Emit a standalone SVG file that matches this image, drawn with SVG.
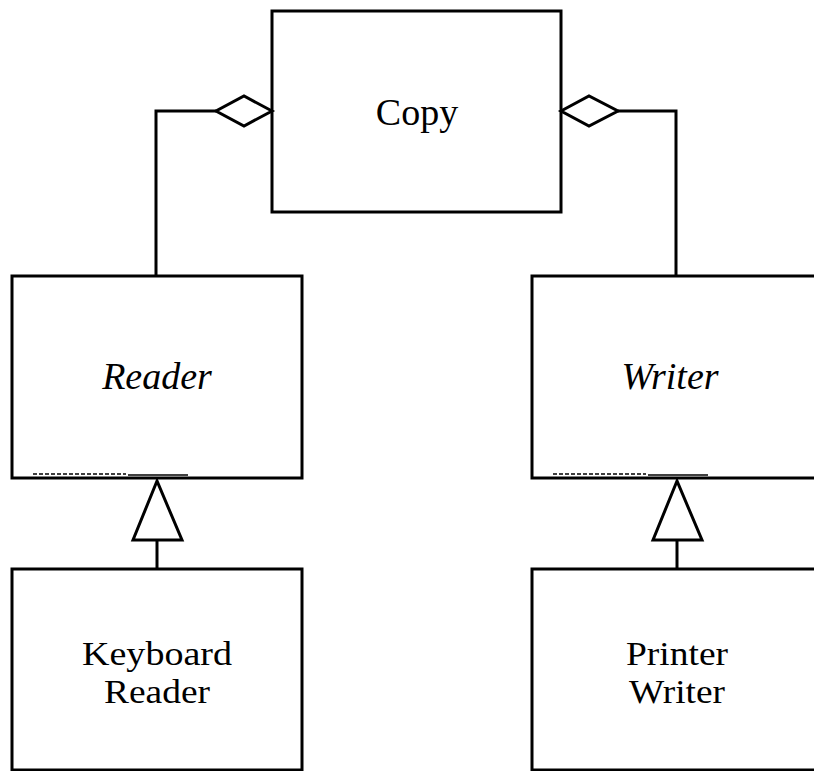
<svg xmlns="http://www.w3.org/2000/svg" width="814" height="771" viewBox="0 0 814 771">
<style>
.box{fill:#fff;stroke:#000;stroke-width:3}
.ln{fill:none;stroke:#000;stroke-width:3}
.hd{fill:#fff;stroke:#000;stroke-width:3;stroke-linejoin:miter}
.t{font-family:"Liberation Serif","Times New Roman",serif;font-size:38px;fill:#000;text-anchor:middle}
.s{font-size:33px}
.i{font-style:italic}
.art{fill:none;stroke:#000;stroke-width:1.5;stroke-dasharray:4 2}
</style>
<rect width="814" height="771" fill="#fff"/>
<g id="copy">
<rect class="box" x="272" y="11" width="289" height="201"/>
<text class="t" x="417" y="125">Copy</text>
</g>
<g id="reader">
<rect class="box" x="12" y="276" width="290" height="202"/>
<text class="t i" x="157" y="389">Reader</text>
<path class="art" d="M33,474 H126"/>
<path d="M128,475 H188" stroke="#000" stroke-width="1.5"/>
</g>
<g id="writer">
<rect class="box" x="532" y="276" width="290" height="202"/>
<text class="t i" x="670" y="389">Writer</text>
<path class="art" d="M553,474 H646"/>
<path d="M648,475 H708" stroke="#000" stroke-width="1.5"/>
</g>
<g id="keyboardreader">
<rect class="box" x="12" y="569" width="290" height="201"/>
<text class="t s" x="157" y="665" textLength="150" lengthAdjust="spacingAndGlyphs">Keyboard</text>
<text class="t s" x="157" y="703" textLength="106" lengthAdjust="spacingAndGlyphs">Reader</text>
</g>
<g id="printerwriter">
<rect class="box" x="532" y="569" width="290" height="201"/>
<text class="t s" x="677" y="665" textLength="102" lengthAdjust="spacingAndGlyphs">Printer</text>
<text class="t s" x="677" y="703" textLength="96" lengthAdjust="spacingAndGlyphs">Writer</text>
</g>
<g id="connectors">
<path class="ln" d="M216,111 H156 V276"/>
<polygon class="hd" points="272,111 244,96 216,111 244,126"/>
<path class="ln" d="M618,111 H676 V276"/>
<polygon class="hd" points="561,111 589,96 618,111 589,126"/>
<path class="ln" d="M157,540 V569"/>
<polygon class="hd" points="157,481 133,540 182,540"/>
<path class="ln" d="M677,540 V569"/>
<polygon class="hd" points="677,481 653,540 702,540"/>
</g>
</svg>
